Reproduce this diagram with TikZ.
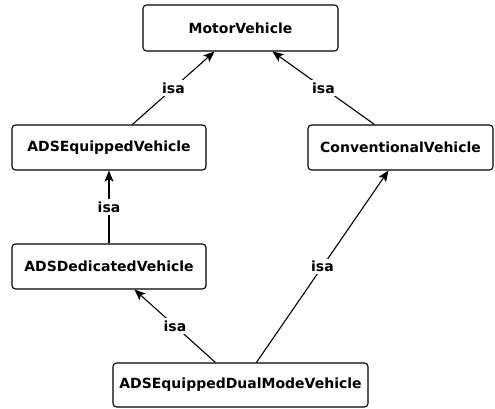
\documentclass[tikz,border=0pt]{standalone}
\usepackage{fontspec}
\setmainfont{DejaVu Sans}
\usetikzlibrary{arrows.meta}
\begin{document}
\begin{tikzpicture}[x=1pt,y=-1pt,
  cls/.style={draw, line width=1.1pt, rounded corners=3.5pt, inner sep=0pt,
    font=\fontsize{14}{16}\selectfont\bfseries},
  isa/.style={draw, line width=1.1pt, -{Stealth[length=11pt,width=9pt,inset=2.5pt]}},
  lbl/.style={fill=white, inner sep=2.5pt, font=\fontsize{14}{16}\selectfont\bfseries}]
  \useasboundingbox (0,0) rectangle (495,409);

  % classes
  \node[cls, minimum width=195pt, minimum height=46pt] (mv)   at (240.5,28)  {MotorVehicle};
  \node[cls, minimum width=194pt, minimum height=45pt] (adse) at (109,147.5) {ADSEquippedVehicle};
  \node[cls, minimum width=194pt, minimum height=45pt] (adsd) at (109,266.5) {ADSDedicatedVehicle};
  \node[cls, minimum width=185pt, minimum height=45pt] (cv)   at (400.5,147.5) {ConventionalVehicle};
  \node[cls, minimum width=255pt, minimum height=44pt] (dm)   at (240.5,385) {ADSEquippedDualModeVehicle};

  % subclass links
  \draw[isa] ([xshift=121pt]adse.north west) -- node[lbl]{isa} ([xshift=72pt]mv.south west);
  \draw[isa] ([xshift=67pt]cv.north west) -- node[lbl]{isa} ([xshift=130pt]mv.south west);
  \draw[isa] (adsd.north) -- node[lbl]{isa} (adse.south);
  \draw[isa] ([xshift=103pt]dm.north west) -- node[lbl]{isa} ([xshift=123pt]adsd.south west);
  \draw[isa] ([xshift=144pt]dm.north west) -- node[lbl]{isa} ([xshift=81pt]cv.south west);
\end{tikzpicture}
\end{document}
